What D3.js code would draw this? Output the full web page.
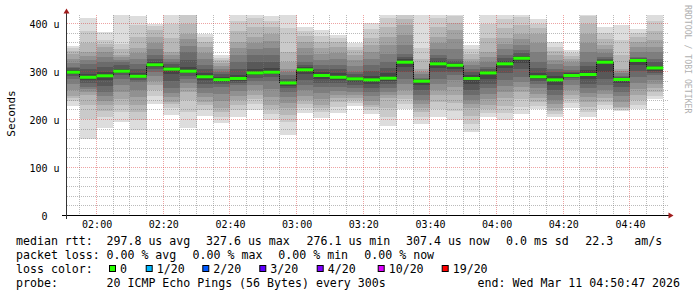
<!DOCTYPE html>
<html lang="en">
<head>
<meta charset="utf-8">
<title>smokeping rtt</title>
<script src="https://d3js.org/d3.v7.min.js"></script>
<style>
body{margin:0;background:#fff;}
svg{display:block;font-family:"DejaVu Sans Mono",monospace;}
</style>
</head>
<body>
<div id="chart"></div>
<script>
// 5 minute steps, each column ends at this time
var colEnds = ["01:55","02:00","02:05","02:10","02:15","02:20","02:25","02:30","02:35","02:40","02:45","02:50",
               "02:55","03:00","03:05","03:10","03:15","03:20","03:25","03:30","03:35","03:40","03:45","03:50",
               "03:55","04:00","04:05","04:10","04:15","04:20","04:25","04:30","04:35","04:40","04:45","04:50"]
// median rtt in us
var medians = [298.5,288,291,300.6,290,314,305,300.6,289,283,285.5,297,298.5,276.1,303.5,291.7,288,284.7,
               282.6,286,319.4,279.8,316,313,285.5,297,316,327.6,289,282.6,291.7,293.7,319.4,283.3,323,307.4]
// the 20 pings of each step, sorted, in us (read from the smoke)
var pings = [
 [229,238,245,250,262,274,285,290,295,298,300,303,307,310,318,327,337,342,348,353],
 [160,202,230,251,257,263,268,276,283,287,289,295,305,316,324,333,341,360,385,412],
 [182,205,218,230,239,248,257,270,282,289,293,300,310,320,330,341,351,358,365,383],
 [195,215,230,243,257,271,285,292,297,300,301,306,313,320,325,330,334,346,358,430],
 [178,200,215,230,246,262,278,283,287,289,291,297,306,316,327,338,348,372,396,416],
 [232,250,262,271,280,290,299,305,310,313,315,320,327,334,347,360,372,386,394,400],
 [210,224,232,237,246,256,265,280,295,304,306,310,315,320,327,334,341,370,400,425],
 [182,215,240,257,266,276,285,291,296,300,301,310,325,341,354,367,379,398,417,440],
 [207,220,230,237,246,256,265,275,283,288,290,296,305,313,326,339,351,362,372,379],
 [192,205,215,223,238,253,268,274,279,282,284,288,294,299,305,311,317,323,329,335],
 [206,220,231,240,250,260,271,277,281,285,286,293,306,320,334,348,362,385,405,420],
 [220,232,243,251,261,271,281,287,292,296,298,306,320,334,347,360,372,392,412,430],
 [198,212,222,230,247,264,281,288,294,298,299,307,320,334,349,364,379,392,405,416],
 [167,195,210,223,235,247,258,265,270,275,277,279,285,292,300,306,320,341,390,440],
 [214,225,233,240,250,261,271,283,295,302,305,309,314,320,334,348,362,375,385,393],
 [204,215,223,230,243,256,268,277,285,291,293,299,306,313,325,337,348,362,375,386],
 [214,226,236,244,252,260,268,276,282,287,289,296,305,313,326,339,351,362,370,377],
 [228,234,240,244,251,258,265,272,278,284,285,289,294,299,311,323,334,344,352,360],
 [212,220,226,230,239,248,258,266,274,281,284,291,302,313,327,341,355,370,388,402],
 [186,205,225,244,251,258,265,273,280,285,287,297,308,320,337,355,372,392,412,430],
 [222,232,242,251,262,273,285,298,310,318,321,326,331,337,356,376,396,410,425,440],
 [190,205,215,223,232,241,251,262,272,279,281,283,285,287,294,300,306,327,348,430],
 [206,222,237,251,262,273,285,298,308,315,317,322,328,334,347,360,372,392,412,430],
 [200,218,235,251,267,283,292,300,306,312,314,318,322,327,347,367,386,402,416,435],
 [174,190,207,223,232,241,251,262,273,284,286,292,299,306,313,320,327,337,346,355],
 [206,214,222,230,242,253,265,275,285,296,298,302,306,310,320,331,341,370,400,430],
 [198,214,229,244,257,270,282,296,308,315,317,322,328,334,346,357,369,390,410,430],
 [212,227,242,257,268,279,289,305,318,326,328,333,339,344,356,367,379,396,413,440],
 [222,229,237,244,254,265,275,281,285,288,290,297,308,320,340,360,379,390,400,410],
 [205,211,217,223,232,241,251,262,272,281,284,290,298,306,315,324,334,343,352,362],
 [225,234,242,251,261,271,282,286,289,291,293,296,300,303,311,319,327,333,339,344],
 [205,216,227,237,246,255,265,275,285,293,295,303,311,320,340,360,379,398,415,430],
 [222,230,237,244,253,262,271,285,300,318,321,324,327,331,339,347,355,368,381,393],
 [217,220,224,227,237,248,258,268,276,282,284,286,288,290,296,301,306,335,365,396],
 [221,231,241,251,264,276,289,302,314,322,324,326,328,331,341,351,362,371,380,389],
 [243,250,258,265,274,283,292,297,302,305,307,312,319,327,340,352,365,385,405,425]
]
var xTickLabels = ["02:00","02:20","02:40","03:00","03:20","03:40","04:00","04:20","04:40"]
var yTicks = [0,100,200,300,400]
var yTickLabels = ["  0","100 u","200 u","300 u","400 u"]

var rttLegend = ["297.8 us avg","327.6 us max","276.1 us min","307.4 us now","0.0 ms sd","22.3","am/s"]
var lossLegend = ["0.00 % avg","0.00 % max","0.00 % min","0.00 % now"]
var lossLabels = ["0","1/20","2/20","3/20","4/20","10/20","19/20"]
var lossColors = ["#26ff00","#00b8ff","#0059ff","#5e00ff","#7e00ff","#dd00ff","#ff0000"]
var probeText = "20 ICMP Echo Pings (56 Bytes) every 300s"
var endText = "end: Wed Mar 11 04:50:47 2026"

var W = 697, H = 297
var svg = d3.select("#chart").append("svg").attr("width",W).attr("height",H)

function toTime(s){
    var p = s.split(":")
    return new Date(Date.UTC(2026,2,11,+p[0],+p[1],0))
}
var t0 = new Date(Date.UTC(2026,2,11,1,51,7))
var t1 = new Date(Date.UTC(2026,2,11,4,51,7))
var x = d3.scaleUtc().domain([t0,t1]).range([67,667])
var y = d3.scaleLinear().domain([0,416.667]).range([215.5,15.5])

svg.append("clipPath").attr("id","plot")
    .append("rect").attr("x",67).attr("y",15).attr("width",600).attr("height",200.5)

var cols = colEnds.map(function(s,i){
    var end = toTime(s)
    var start = new Date(Math.max(+t0, +end - 300000))
    return {start:start, end:end, med:medians[i], p:pings[i]}
})

// smoke: outer pairs light, inner pairs dark
var smoke = svg.append("g").attr("clip-path","url(#plot)").attr("shape-rendering","crispEdges")
cols.forEach(function(c){
    for(var k=0; k<10; k++){
        var g = Math.floor(190/10*(10-(k+1)))+50
        smoke.append("rect")
            .attr("x",x(c.start))
            .attr("width",x(c.end)-x(c.start))
            .attr("y",y(c.p[19-k]))
            .attr("height",y(c.p[k])-y(c.p[19-k]))
            .attr("fill","rgb("+g+","+g+","+g+")")
    }
})

// dark joints between median steps
var joints = svg.append("g")
for(var i=0; i<cols.length-1; i++){
    var xx = Math.floor(x(cols[i].end))+0.5
    joints.append("line")
        .attr("x1",xx).attr("x2",xx)
        .attr("y1",y(cols[i].med)).attr("y2",y(cols[i+1].med))
        .attr("stroke","#111").attr("stroke-width",1)
}

// grid
var grid = svg.append("g")
var minorT = x.ticks(d3.utcMinute.every(5))
minorT.forEach(function(t){
    var major = t.getUTCMinutes()%20==0
    var xx = Math.floor(x(t))+0.5
    grid.append("line").attr("x1",xx).attr("x2",xx).attr("y1",15).attr("y2",215)
        .attr("stroke", major ? "rgba(215,50,50,0.45)" : "rgba(120,120,120,0.5)")
        .attr("stroke-dasharray","1,1")
})
d3.range(20,417,20).forEach(function(v){
    var major = v%100==0
    var yy = Math.floor(y(v))+0.5
    grid.append("line").attr("x1",67).attr("x2",668).attr("y1",yy).attr("y2",yy)
        .attr("stroke", major ? "rgba(215,50,50,0.45)" : "rgba(120,120,120,0.5)")
        .attr("stroke-dasharray","1,1")
})

// median line
svg.append("g").selectAll("line").data(cols).join("line")
    .attr("x1",function(d){return x(d.start)})
    .attr("x2",function(d){return x(d.end)})
    .attr("y1",function(d){return y(d.med)})
    .attr("y2",function(d){return y(d.med)})
    .attr("stroke",lossColors[0]).attr("stroke-width",3)

// axes
svg.append("line").attr("x1",62).attr("x2",669).attr("y1",215.5).attr("y2",215.5).attr("stroke","#000")
svg.append("line").attr("x1",66.5).attr("x2",66.5).attr("y1",219).attr("y2",12).attr("stroke","#333")
svg.append("path").attr("d","M66.5,8.5L63.5,13.5L69.5,13.5Z").attr("fill","#a01c1c")
svg.append("path").attr("d","M673.5,215.5L668.5,212.5L668.5,218.5Z").attr("fill","#a01c1c")

var xAxis = d3.axisBottom(x)
    .tickValues(xTickLabels.map(toTime))
    .tickFormat(function(d,i){return xTickLabels[i]})
    .tickSize(0)
var gx = svg.append("g").attr("transform","translate(0,215.5)").call(xAxis)
gx.attr("font-family","DejaVu Sans Mono").attr("font-size",10)
gx.select(".domain").remove()
gx.selectAll("text").attr("y",12).attr("dy",null).attr("fill","#000")

var yAxis = d3.axisLeft(y)
    .tickValues(yTicks)
    .tickFormat(function(d,i){return yTickLabels[i]})
    .tickSize(0)
var gy = svg.append("g").attr("transform","translate(66.5,0)").call(yAxis)
gy.attr("font-family","DejaVu Sans Mono").attr("font-size",10)
gy.select(".domain").remove()
gy.selectAll("text").attr("text-anchor","start").attr("x",-37).attr("dy","0.36em")
    .attr("fill","#000").style("white-space","pre")

svg.append("text").attr("transform","translate(15.3,113.5) rotate(-90)")
    .attr("text-anchor","middle").attr("font-size",11).text("Seconds")
svg.append("text").attr("transform","translate(684.5,5) rotate(90)")
    .attr("font-size",8.2).attr("fill","#b0b0b0").text("RRDTOOL / TOBI OETIKER")

// legend
var leg = svg.append("g").attr("font-size",11.6).attr("fill","#000").style("white-space","pre")
function legText(tx,ty,s){ leg.append("text").attr("x",tx).attr("y",ty).text(s) }

legText(16,244.5,"median rtt:")
var rttX = [106.5,206,306.5,406,506,585.3,634.3]
rttLegend.forEach(function(s,i){ legText(rttX[i],244.5,s) })

legText(16,258.5,"packet loss:")
var lossX = [106.5,192.6,278.3,364.3]
lossLegend.forEach(function(s,i){ legText(lossX[i],258.5,s) })

legText(16,272.5,"loss color:")
var swX = [109,145.7,202.3,259.3,316.7,377.7,441.7]
lossLabels.forEach(function(s,i){
    leg.append("rect").attr("x",swX[i]+0.5).attr("y",265.5).attr("width",6).attr("height",6)
        .attr("fill",lossColors[i]).attr("stroke","#000").attr("stroke-width",1)
    legText(swX[i]+11,272.5,s)
})

legText(16,286.5,"probe:")
legText(106.5,286.5,probeText)
legText(477.6,286.5,endText)
</script>
</body>
</html>
